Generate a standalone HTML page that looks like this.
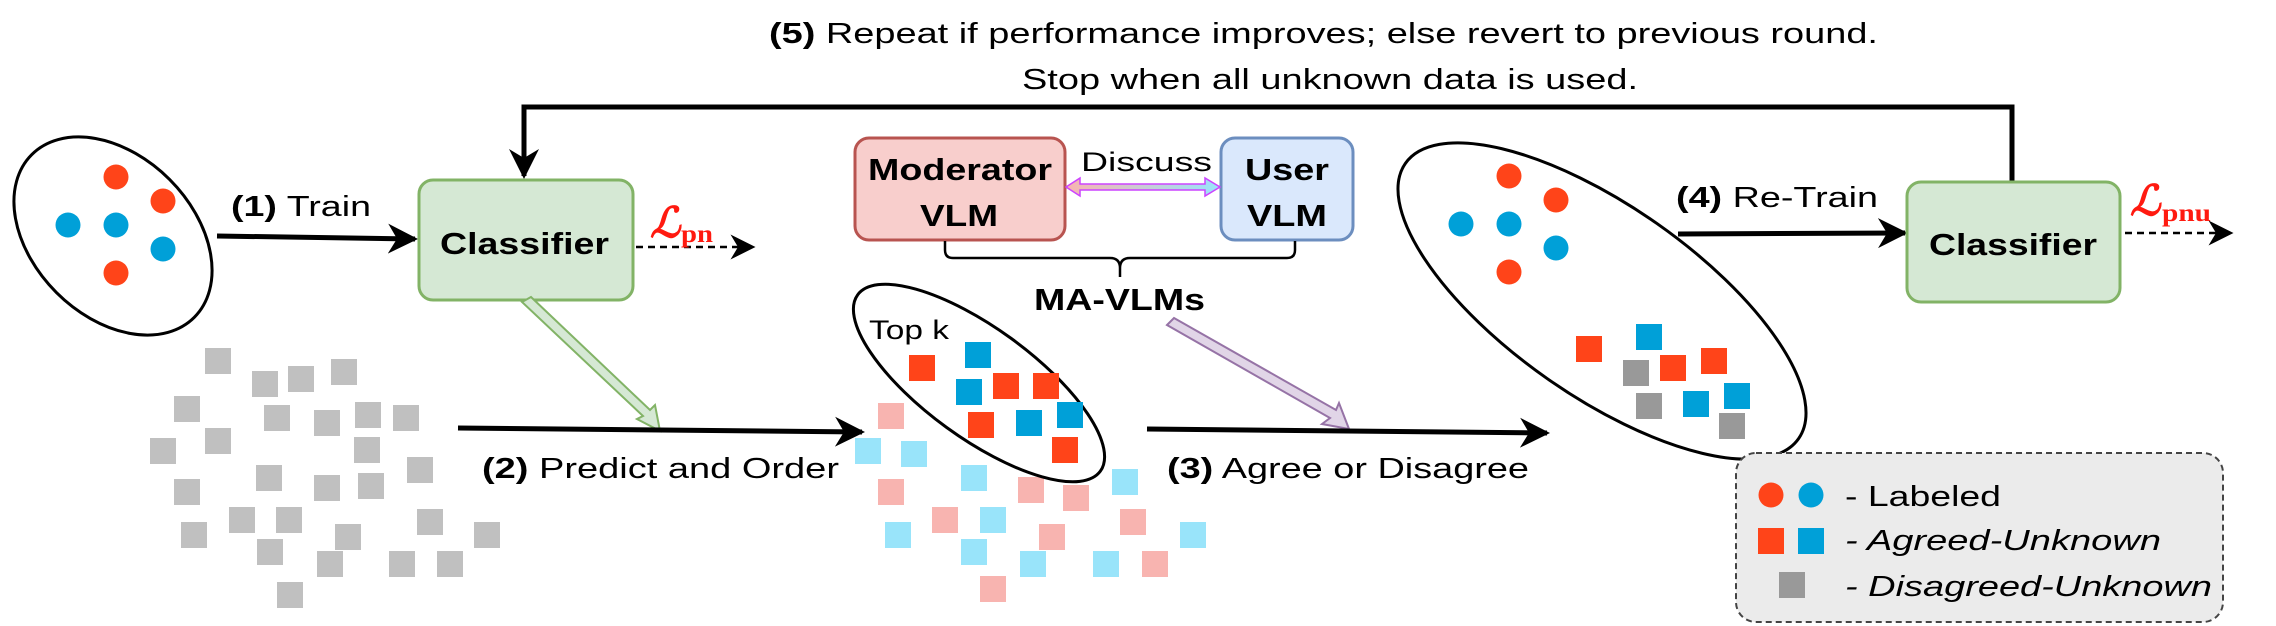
<!DOCTYPE html>
<html><head><meta charset="utf-8"><style>
html,body{margin:0;padding:0;background:#fff;}
svg{display:block;}
text{font-family:"Liberation Sans",Arial,sans-serif;fill:#000;}
</style></head><body>
<svg width="2276" height="626" viewBox="0 0 2276 626" xmlns="http://www.w3.org/2000/svg" font-family="Liberation Sans, Arial, sans-serif">
<defs>
<marker id="ah" viewBox="0 0 10 10" refX="9" refY="5" markerWidth="6" markerHeight="6" orient="auto" markerUnits="strokeWidth"><path d="M0,0 L10,5 L0,10 L3,5 z" fill="#000"/></marker>
<marker id="ahs" viewBox="0 0 10 10" refX="9" refY="5" markerWidth="10" markerHeight="10" orient="auto" markerUnits="strokeWidth"><path d="M0,0 L10,5 L0,10 L3,5 z" fill="#000"/></marker>
<linearGradient id="dg" x1="0" x2="1" y1="0" y2="0"><stop offset="0" stop-color="#f8b4b0"/><stop offset="1" stop-color="#99e4fa"/></linearGradient>
</defs>

<!-- title -->
<text x="769" y="43" font-size="29" textLength="1109" lengthAdjust="spacingAndGlyphs"><tspan font-weight="bold">(5)</tspan> Repeat if performance improves; else revert to previous round.</text>
<text x="1022" y="89" font-size="29" textLength="616" lengthAdjust="spacingAndGlyphs">Stop when all unknown data is used.</text>

<!-- loop -->
<polyline points="2012,182 2012,107 524,107 524,176" fill="none" stroke="#000" stroke-width="5" marker-end="url(#ah)"/>

<!-- left ellipse -->
<ellipse cx="113" cy="236" rx="115" ry="80" transform="rotate(45 113 236)" fill="#fff" stroke="#000" stroke-width="3"/>
<g>
<circle cx="116" cy="177" r="12.5" fill="#ff4419"/><circle cx="163" cy="201" r="12.5" fill="#ff4419"/><circle cx="116" cy="273" r="12.5" fill="#ff4419"/>
<circle cx="68" cy="225" r="12.5" fill="#00a0d8"/><circle cx="116" cy="225" r="12.5" fill="#00a0d8"/><circle cx="163" cy="249" r="12.5" fill="#00a0d8"/>
</g>

<!-- (1) Train -->
<line x1="217" y1="236" x2="415" y2="239" stroke="#000" stroke-width="5" marker-end="url(#ah)"/>
<text x="231" y="216" font-size="29" textLength="140" lengthAdjust="spacingAndGlyphs"><tspan font-weight="bold">(1)</tspan> Train</text>

<!-- Classifier 1 -->
<rect x="419" y="180" width="214" height="120" rx="14" fill="#d5e8d4" stroke="#82b366" stroke-width="3"/>
<text x="440" y="254" font-size="31" font-weight="bold" textLength="169" lengthAdjust="spacingAndGlyphs">Classifier</text>
<line x1="636" y1="247" x2="753" y2="247" stroke="#000" stroke-width="2.5" stroke-dasharray="7,5" marker-end="url(#ahs)"/>
<text x="650" y="237" font-size="42" font-style="italic" font-weight="bold" style="fill:#ff1a10;font-family:'DejaVu Serif','Liberation Serif',serif">ℒ</text>
<text x="681" y="242" font-size="25" font-weight="bold" style="fill:#ff1a10;font-family:'Liberation Serif',serif" textLength="32" lengthAdjust="spacingAndGlyphs">pn</text>

<!-- Moderator / User -->
<rect x="855" y="138" width="210" height="102" rx="14" fill="#f8cecc" stroke="#b85450" stroke-width="3"/>
<text x="868" y="180" font-size="31" font-weight="bold" textLength="184" lengthAdjust="spacingAndGlyphs">Moderator</text>
<text x="920" y="226" font-size="31" font-weight="bold" textLength="78" lengthAdjust="spacingAndGlyphs">VLM</text>
<rect x="1221" y="138" width="132" height="102" rx="14" fill="#dae8fc" stroke="#6c8ebf" stroke-width="3"/>
<text x="1245" y="180" font-size="31" font-weight="bold" textLength="84" lengthAdjust="spacingAndGlyphs">User</text>
<text x="1247" y="226" font-size="31" font-weight="bold" textLength="80" lengthAdjust="spacingAndGlyphs">VLM</text>
<text x="1081" y="171" font-size="27" textLength="131" lengthAdjust="spacingAndGlyphs">Discuss</text>
<path d="M1066,187 L1080,178 L1080,184 L1205,184 L1205,178 L1220,187 L1205,196 L1205,190 L1080,190 L1080,196 Z" fill="url(#dg)" stroke="#cc44ff" stroke-width="1.5"/>
<!-- brace -->
<path d="M945,241 L945,250 Q945,258 953,258 L1110,258 Q1120,258 1120,268 L1120,277 M1120,268 Q1120,258 1130,258 L1287,258 Q1295,258 1295,250 L1295,241" fill="none" stroke="#000" stroke-width="2.5"/>
<text x="1034" y="310" font-size="31" font-weight="bold" textLength="171" lengthAdjust="spacingAndGlyphs">MA-VLMs</text>

<!-- green hollow arrow -->
<path d="M522,302 L531,297 L650,410 L655,405 L660,431 L637,419 L643,416 Z" fill="#d5e8d4" stroke="#82b366" stroke-width="2"/>

<!-- gray squares -->
<g fill="#c0c0c0">
<rect x="205" y="348" width="26" height="26"/><rect x="252" y="371" width="26" height="26"/><rect x="288" y="366" width="26" height="26"/><rect x="331" y="359" width="26" height="26"/>
<rect x="174" y="396" width="26" height="26"/><rect x="264" y="405" width="26" height="26"/><rect x="314" y="410" width="26" height="26"/><rect x="355" y="402" width="26" height="26"/>
<rect x="393" y="405" width="26" height="26"/><rect x="205" y="428" width="26" height="26"/><rect x="150" y="438" width="26" height="26"/><rect x="354" y="437" width="26" height="26"/>
<rect x="407" y="457" width="26" height="26"/><rect x="256" y="465" width="26" height="26"/><rect x="314" y="475" width="26" height="26"/><rect x="358" y="473" width="26" height="26"/>
<rect x="174" y="479" width="26" height="26"/><rect x="229" y="507" width="26" height="26"/><rect x="276" y="507" width="26" height="26"/><rect x="417" y="509" width="26" height="26"/>
<rect x="181" y="522" width="26" height="26"/><rect x="335" y="524" width="26" height="26"/><rect x="474" y="522" width="26" height="26"/><rect x="257" y="539" width="26" height="26"/>
<rect x="317" y="551" width="26" height="26"/><rect x="389" y="551" width="26" height="26"/><rect x="437" y="551" width="26" height="26"/><rect x="277" y="582" width="26" height="26"/>
</g>

<!-- (2) -->
<line x1="458" y1="428" x2="862" y2="432" stroke="#000" stroke-width="5" marker-end="url(#ah)"/>
<text x="482" y="478" font-size="29" textLength="357" lengthAdjust="spacingAndGlyphs"><tspan font-weight="bold">(2)</tspan> Predict and Order</text>

<!-- light squares -->
<g fill="#f8b4b0">
<rect x="878" y="403" width="26" height="26"/><rect x="878" y="479" width="26" height="26"/><rect x="1018" y="477" width="26" height="26"/><rect x="1063" y="485" width="26" height="26"/>
<rect x="932" y="507" width="26" height="26"/><rect x="1039" y="524" width="26" height="26"/><rect x="980" y="576" width="26" height="26"/><rect x="1120" y="509" width="26" height="26"/><rect x="1142" y="551" width="26" height="26"/>
</g>
<g fill="#99e4fa">
<rect x="855" y="438" width="26" height="26"/><rect x="901" y="441" width="26" height="26"/><rect x="961" y="465" width="26" height="26"/><rect x="1112" y="469" width="26" height="26"/>
<rect x="980" y="507" width="26" height="26"/><rect x="885" y="522" width="26" height="26"/><rect x="961" y="539" width="26" height="26"/><rect x="1020" y="551" width="26" height="26"/><rect x="1093" y="551" width="26" height="26"/><rect x="1180" y="522" width="26" height="26"/>
</g>

<!-- top k ellipse -->
<ellipse cx="979" cy="383" rx="150" ry="55" transform="rotate(36 979 383)" fill="none" stroke="#000" stroke-width="3"/>
<text x="869" y="339" font-size="27" textLength="80" lengthAdjust="spacingAndGlyphs">Top k</text>
<g fill="#ff4419">
<rect x="909" y="355" width="26" height="26"/><rect x="993" y="373" width="26" height="26"/><rect x="1033" y="373" width="26" height="26"/><rect x="968" y="412" width="26" height="26"/><rect x="1052" y="437" width="26" height="26"/>
</g>
<g fill="#00a0d8">
<rect x="965" y="342" width="26" height="26"/><rect x="956" y="379" width="26" height="26"/><rect x="1057" y="402" width="26" height="26"/><rect x="1016" y="410" width="26" height="26"/>
</g>

<!-- purple hollow arrow -->
<path d="M1167,325 L1174,318 L1336,410 L1339,403 L1349,429 L1322,424 L1330,418 Z" fill="#e1d5e7" stroke="#9673a6" stroke-width="2"/>

<!-- (3) -->
<line x1="1147" y1="429" x2="1547" y2="433" stroke="#000" stroke-width="5" marker-end="url(#ah)"/>
<text x="1167" y="478" font-size="29" textLength="362" lengthAdjust="spacingAndGlyphs"><tspan font-weight="bold">(3)</tspan> Agree or Disagree</text>

<!-- big ellipse -->
<ellipse cx="1602" cy="301" rx="240" ry="95" transform="rotate(35 1602 301)" fill="none" stroke="#000" stroke-width="3"/>
<circle cx="1509" cy="176" r="12.5" fill="#ff4419"/><circle cx="1556" cy="200" r="12.5" fill="#ff4419"/><circle cx="1509" cy="272" r="12.5" fill="#ff4419"/>
<circle cx="1461" cy="224" r="12.5" fill="#00a0d8"/><circle cx="1509" cy="224" r="12.5" fill="#00a0d8"/><circle cx="1556" cy="248" r="12.5" fill="#00a0d8"/>
<g fill="#ff4419"><rect x="1576" y="336" width="26" height="26"/><rect x="1660" y="355" width="26" height="26"/><rect x="1701" y="348" width="26" height="26"/></g>
<g fill="#00a0d8"><rect x="1636" y="324" width="26" height="26"/><rect x="1683" y="391" width="26" height="26"/><rect x="1724" y="383" width="26" height="26"/></g>
<g fill="#999"><rect x="1623" y="360" width="26" height="26"/><rect x="1636" y="393" width="26" height="26"/><rect x="1719" y="413" width="26" height="26"/></g>

<!-- (4) -->
<line x1="1678" y1="234" x2="1905" y2="233" stroke="#000" stroke-width="5" marker-end="url(#ah)"/>
<text x="1676" y="207" font-size="29" textLength="202" lengthAdjust="spacingAndGlyphs"><tspan font-weight="bold">(4)</tspan> Re-Train</text>

<!-- Classifier 2 -->
<rect x="1907" y="182" width="213" height="120" rx="14" fill="#d5e8d4" stroke="#82b366" stroke-width="3"/>
<text x="1929" y="255" font-size="31" font-weight="bold" textLength="168" lengthAdjust="spacingAndGlyphs">Classifier</text>
<line x1="2125" y1="233" x2="2231" y2="233" stroke="#000" stroke-width="2.5" stroke-dasharray="7,5" marker-end="url(#ahs)"/>
<text x="2130" y="215" font-size="42" font-style="italic" font-weight="bold" style="fill:#ff1a10;font-family:'DejaVu Serif','Liberation Serif',serif">ℒ</text>
<text x="2162" y="221" font-size="25" font-weight="bold" style="fill:#ff1a10;font-family:'Liberation Serif',serif" textLength="49" lengthAdjust="spacingAndGlyphs">pnu</text>

<!-- legend -->
<rect x="1736" y="453" width="487" height="169" rx="20" fill="#ebebeb" stroke="#444" stroke-width="2" stroke-dasharray="6,4"/>
<circle cx="1771" cy="495" r="12.5" fill="#ff4419"/><circle cx="1811" cy="495" r="12.5" fill="#00a0d8"/>
<text x="1845" y="506" font-size="29" textLength="156" lengthAdjust="spacingAndGlyphs">- Labeled</text>
<rect x="1758" y="528" width="26" height="26" fill="#ff4419"/><rect x="1798" y="528" width="26" height="26" fill="#00a0d8"/>
<text x="1845" y="550" font-size="29" font-style="italic" textLength="316" lengthAdjust="spacingAndGlyphs">- Agreed-Unknown</text>
<rect x="1779" y="572" width="26" height="26" fill="#999"/>
<text x="1845" y="596" font-size="29" font-style="italic" textLength="367" lengthAdjust="spacingAndGlyphs">- Disagreed-Unknown</text>
</svg>
</body></html>
